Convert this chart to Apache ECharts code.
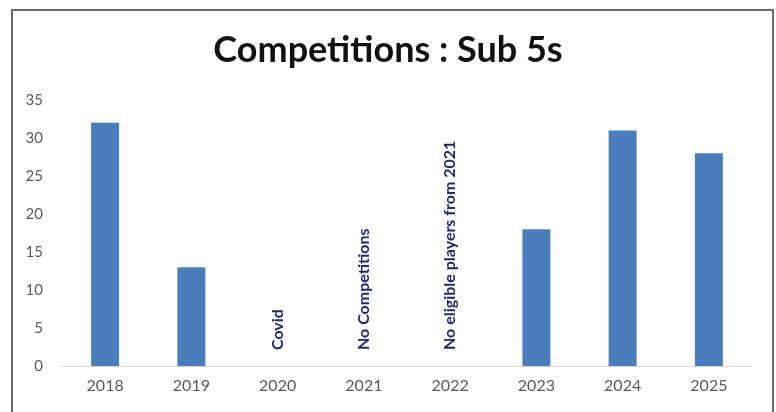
<!DOCTYPE html>
<html>
<head>
<meta charset="utf-8">
<script src="https://cdn.jsdelivr.net/npm/echarts@6/dist/echarts.min.js"></script>
<style>
    html, body { margin: 0; padding: 0; background: #fff; }
    #chart { width: 776px; height: 412px; }
</style>
</head>
<body>
<div id="chart"></div>
<script>
    // years on the x axis
    const years = ['2018', '2019', '2020', '2021', '2022', '2023', '2024', '2025']
    // competitions per year (null = no data)
    const competitions = [32, 13, null, null, null, 18, 31, 28]
    // notes written over the empty years
    const notes = ['', '', 'Covid', 'No Competitions', 'No eligible players from 2021', '', '', '']
    const yTicks = [0, 5, 10, 15, 20, 25, 30, 35]

    const chart = echarts.init(document.getElementById('chart'))
    const font = 'Lato, "Open Sans", sans-serif'

    chart.setOption({
        animation: false,
        textStyle: { fontFamily: font },
        graphic: [{
            type: 'rect',
            shape: { x: 12, y: 10, width: 761, height: 420 },
            style: { fill: null, stroke: '#6b6b6b', lineWidth: 2 },
            silent: true
        }],
        title: {
            text: 'Competitions : Sub 5s',
            left: 'center',
            top: 27,
            textStyle: {
                fontFamily: font,
                fontSize: 36,
                fontWeight: 'bold',
                color: '#111'
            }
        },
        grid: {
            left: 62,
            right: 24,
            top: 100,
            bottom: 46,
            containLabel: false
        },
        xAxis: {
            type: 'category',
            data: years,
            axisLine: { lineStyle: { color: '#d9d9d9', width: 1 } },
            axisTick: { show: false },
            axisLabel: {
                color: '#595959',
                fontSize: 16,
                margin: 12,
                fontFamily: font
            }
        },
        yAxis: {
            type: 'value',
            min: yTicks[0],
            max: yTicks[yTicks.length - 1],
            interval: 5,
            axisLine: { show: false },
            axisTick: { show: false },
            splitLine: { show: false },
            axisLabel: {
                color: '#595959',
                fontSize: 15,
                margin: 19,
                fontFamily: font
            }
        },
        series: [
            {
                name: 'Competitions',
                type: 'bar',
                data: competitions,
                barWidth: 28,
                barGap: '-100%',
                itemStyle: { color: '#4a7ebb' }
            },
            {
                name: 'Notes',
                type: 'bar',
                data: notes.map(n => n ? 0 : null),
                barWidth: 28,
                silent: true,
                itemStyle: { color: 'transparent' },
                label: {
                    show: true,
                    position: 'top',
                    distance: 16,
                    rotate: 90,
                    align: 'left',
                    verticalAlign: 'middle',
                    color: '#1f2a6e',
                    fontSize: 16,
                    fontWeight: 'bold',
                    fontFamily: font,
                    formatter: p => notes[p.dataIndex]
                }
            }
        ]
    })
</script>
</body>
</html>
